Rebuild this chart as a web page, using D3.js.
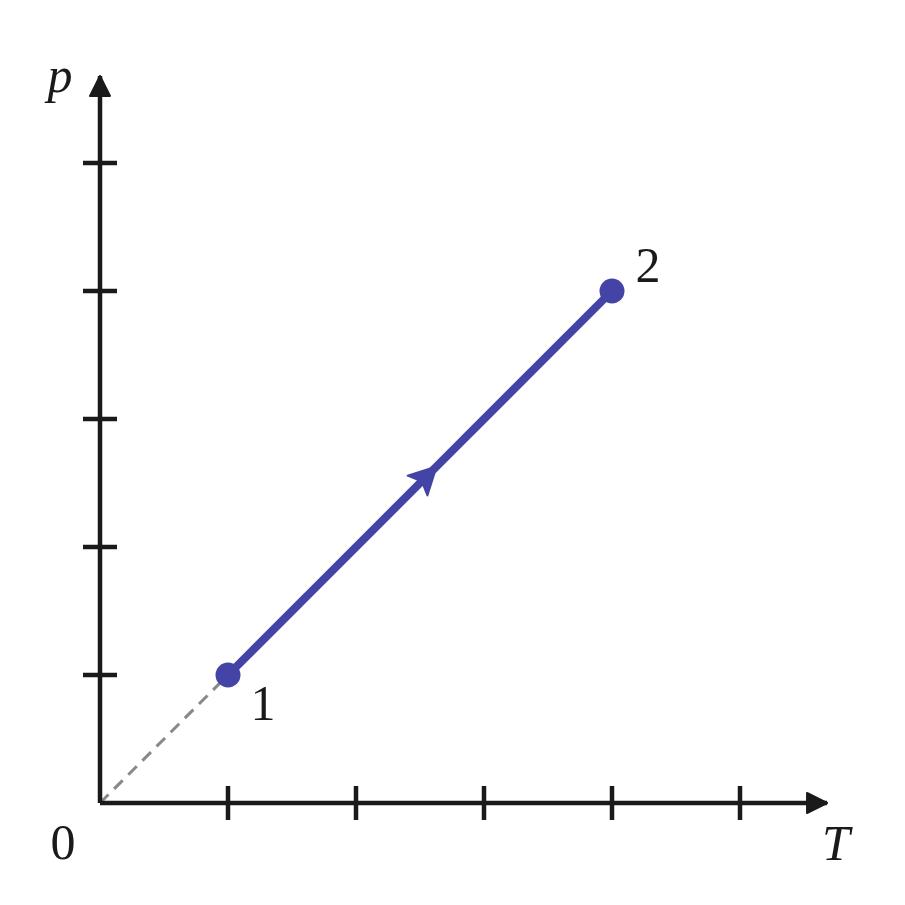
<!DOCTYPE html>
<html><head><meta charset="utf-8">
<script src="https://cdn.jsdelivr.net/npm/d3@7/dist/d3.min.js"></script>
<style>html,body{margin:0;padding:0;background:#fff;}</style>
</head><body>
<script>
const xTicks = [1, 2, 3, 4, 5];
const yTicks = [1, 2, 3, 4, 5];
const processT = [1, 4];
const processP = [1, 4];
const pointLabels = ["1", "2"];
const axisMax = 5.68;

const W = 905, H = 905;
const svg = d3.select("body").append("svg").attr("width", W).attr("height", H);
const x = d3.scaleLinear().domain([0, 5]).range([100, 740]);
const y = d3.scaleLinear().domain([0, 5]).range([803, 163]);
const ink = "#1a1a1a", blue = "#4444a6";

const defs = svg.append("defs");
defs.append("marker").attr("id", "ax").attr("viewBox", "0 0 24 24")
  .attr("refX", 22).attr("refY", 12).attr("markerWidth", 24).attr("markerHeight", 24)
  .attr("markerUnits", "userSpaceOnUse").attr("orient", "auto")
  .append("path").attr("d", "M2,2 L22,12 L2,22 Z").attr("fill", ink)
  .attr("stroke", ink).attr("stroke-width", 2).attr("stroke-linejoin", "round");

// dashed extension to origin
svg.append("line").attr("x1", x(0)).attr("y1", y(0)).attr("x2", x(processT[0])).attr("y2", y(processP[0]))
  .attr("stroke", "#888").attr("stroke-width", 3).attr("stroke-dasharray", "12,8");

// axes
svg.append("line").attr("x1", x(0)).attr("y1", y(0)).attr("x2", x(axisMax)).attr("y2", y(0))
  .attr("stroke", ink).attr("stroke-width", 4.5).attr("marker-end", "url(#ax)");
svg.append("line").attr("x1", x(0)).attr("y1", y(0)).attr("x2", x(0)).attr("y2", y(axisMax))
  .attr("stroke", ink).attr("stroke-width", 4.5).attr("marker-end", "url(#ax)");

svg.selectAll(".xt").data(xTicks).enter().append("line")
  .attr("x1", d => x(d)).attr("x2", d => x(d)).attr("y1", y(0) - 17).attr("y2", y(0) + 17)
  .attr("stroke", ink).attr("stroke-width", 4.5);
svg.selectAll(".yt").data(yTicks).enter().append("line")
  .attr("y1", d => y(d)).attr("y2", d => y(d)).attr("x1", x(0) - 17).attr("x2", x(0) + 17)
  .attr("stroke", ink).attr("stroke-width", 4.5);

// process line
const pts = processT.map((t, i) => [x(t), y(processP[i])]);
svg.append("line").attr("x1", pts[0][0]).attr("y1", pts[0][1]).attr("x2", pts[1][0]).attr("y2", pts[1][1])
  .attr("stroke", blue).attr("stroke-width", 8);

// midpoint arrowhead
const mx = x((processT[0] + processT[1]) / 2), my = y((processP[0] + processP[1]) / 2);
const ang = Math.atan2(pts[1][1] - pts[0][1], pts[1][0] - pts[0][0]) * 180 / Math.PI;
svg.append("path").attr("d", "M15,0 L-12,-14 L-6,0 L-12,14 Z")
  .attr("transform", `translate(${mx + 6},${my - 6}) rotate(${ang})`)
  .attr("fill", blue).attr("stroke", blue).attr("stroke-width", 2).attr("stroke-linejoin", "round");

svg.selectAll(".pt").data(pts).enter().append("circle")
  .attr("cx", d => d[0]).attr("cy", d => d[1]).attr("r", 12.5).attr("fill", blue);

const font = "'Liberation Serif', 'DejaVu Serif', serif";
svg.append("text").attr("x", pts[0][0] + 35).attr("y", pts[0][1] + 45).attr("text-anchor", "middle")
  .attr("font-family", font).attr("font-size", 50).attr("fill", ink).text(pointLabels[0]);
svg.append("text").attr("x", pts[1][0] + 36).attr("y", pts[1][1] - 9).attr("text-anchor", "middle")
  .attr("font-family", font).attr("font-size", 50).attr("fill", ink).text(pointLabels[1]);
svg.append("text").attr("x", 63).attr("y", 859).attr("text-anchor", "middle")
  .attr("font-family", font).attr("font-size", 50).attr("fill", ink).text("0");
svg.append("text").attr("x", 60).attr("y", 92).attr("text-anchor", "middle")
  .attr("font-family", font).attr("font-style", "italic").attr("font-size", 50).attr("fill", ink).text("p");
svg.append("text").attr("x", 836).attr("y", 860).attr("text-anchor", "middle")
  .attr("font-family", font).attr("font-style", "italic").attr("font-size", 50).attr("fill", ink).text("T");
</script>
</body></html>
